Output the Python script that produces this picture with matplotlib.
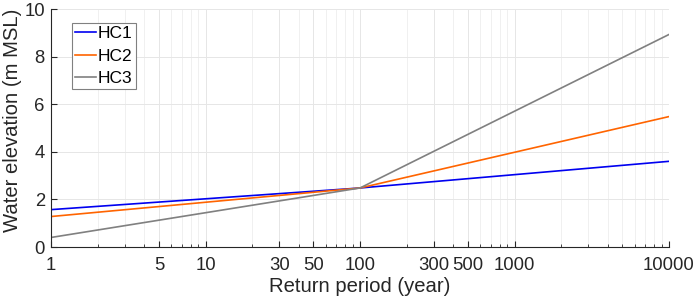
import numpy as np
import matplotlib.pyplot as plt
import matplotlib.ticker as ticker

# Return periods (year) and water elevations (m MSL)
return_period = [1, 100, 10000]
hc1 = [1.57, 2.48, 3.6]
hc2 = [1.28, 2.48, 5.48]
hc3 = [0.4, 2.48, 8.93]
series_names = ['HC1', 'HC2', 'HC3']
series_colors = ['#0000F0', '#FF6400', '#808080']

xticks = [1, 5, 10, 30, 50, 100, 300, 500, 1000, 10000]
xtick_labels = ['1', '5', '10', '30', '50', '100', '300', '500', '1000', '10000']

plt.rcParams['font.family'] = ['Liberation Sans', 'DejaVu Sans']

fig = plt.figure(figsize=(6.99, 3.04), dpi=100)
ax = fig.add_axes([51/699, 1-247/304, 618/699, 238/304])

for ys, name, c in zip([hc1, hc2, hc3], series_names, series_colors):
    ax.plot(return_period, ys, color=c, lw=1.2, label=name)

ax.set_xscale('log')
ax.set_xlim(1, 10000)
ax.set_ylim(0, 10)
ax.xaxis.set_major_locator(ticker.FixedLocator(xticks))
ax.xaxis.set_major_formatter(ticker.FixedFormatter(xtick_labels))
ax.xaxis.set_minor_locator(ticker.LogLocator(base=10, subs=np.arange(2, 10)))
ax.xaxis.set_minor_formatter(ticker.NullFormatter())
ax.yaxis.set_major_locator(ticker.MultipleLocator(2))

ax.grid(True, which='major', color='#e6e6e6', lw=0.7)
ax.grid(True, which='minor', axis='x', color='#eeeeee', lw=0.6)
ax.set_axisbelow(True)

for s in ['top', 'right']:
    ax.spines[s].set_visible(False)
for s in ['left', 'bottom']:
    ax.spines[s].set_color('#262626')
    ax.spines[s].set_linewidth(0.8)

ax.tick_params(which='both', direction='in', colors='#262626', labelsize=13.3, labelcolor='#262626')
ax.tick_params(which='major', length=4)
ax.tick_params(which='minor', length=2.5)
ax.tick_params(axis='x', pad=7)
ax.tick_params(axis='y', pad=4.5)

ax.set_xlabel('Return period (year)', fontsize=14.6, color='#262626')
ax.set_ylabel('Water elevation (m MSL)', fontsize=14.6, color='#262626')
ax.xaxis.set_label_coords(0.5, -0.128)
ax.yaxis.set_label_coords(-0.047, 0.533)

leg = ax.legend(loc='upper left', bbox_to_anchor=(0.0335, 0.941), fontsize=12.5,
                handlelength=1.2, handletextpad=0.12, borderpad=0.18,
                labelspacing=0.42, borderaxespad=0, fancybox=False, framealpha=1)
leg.get_frame().set_edgecolor('#808080')
leg.get_frame().set_linewidth(0.8)

plt.savefig('out.png', dpi=100)
